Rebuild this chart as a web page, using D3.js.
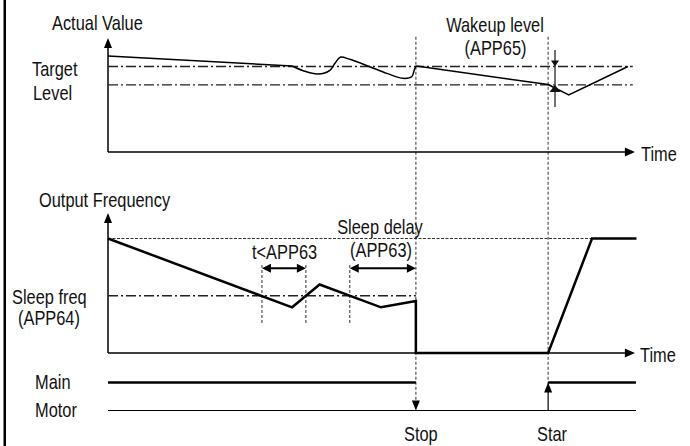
<!DOCTYPE html>
<html><head><meta charset="utf-8">
<script src="https://cdn.jsdelivr.net/npm/d3@7"></script>
<style>html,body{margin:0;padding:0;background:#fff;}svg{display:block;}</style>
</head><body><svg id="c" width="690" height="446"></svg>
<script>
// ---- data (time in 0..100, values in % of panel height) ----
const actualStraightT = [0, 34.8];
const actualStraightV = [84.2, 75.4];
const actualWaveT = [34.8, 36.9, 39.7, 42.0, 42.9, 43.9, 45.7, 49.5, 52.7, 55.8, 57.4, 58.0, 58.3];
const actualWaveV = [75.4, 71.3, 68.4, 71.9, 77.8, 83.1, 81.3, 74.8, 69.0, 64.6, 66.0, 73.4, 75.4];
const actualAfterT = [58.3, 83.2, 87.1, 98.3];
const actualAfterV = [75.4, 59.2, 50.0, 75.0];
const targetLevel = 75.0;
const wakeupLevel = 58.8;
const freqT = [0, 34.8, 40.0, 51.6, 58.2, 58.2, 83.2, 91.5, 99.9];
const freqV = [100, 39.9, 59.8, 39.9, 45.4, 0, 0, 100, 100];
const maxFreq = 100;
const sleepFreq = 50;
const sleepCrossT = [29.1, 37.4, 45.7];
const stopT = 58.2, startT = 83.2, wakeupT = 84.5;
const motorStates = ["Main", "Motor"];
const mainOnT = [[0, 58.2], [83.2, 99.8]];

const svg = d3.select("#c");
const tScale = d3.scaleLinear().domain([0, 100]).range([108, 637]);
const vScale = d3.scaleLinear().domain([0, 100]).range([152, 38]);
const fScale = d3.scaleLinear().domain([0, 100]).range([353, 238.5]);
const mScale = d3.scalePoint().domain(motorStates).range([382.5, 410.5]);

const FONT = "'Liberation Sans', Arial, sans-serif";
function label(txt, x, y, anchor) {
  svg.append("g").attr("transform", `translate(${x},${y}) scale(0.82,1)`)
    .append("text").attr("x", 0).attr("y", 0)
    .attr("font-family", FONT).attr("font-size", 20).attr("fill", "#111")
    .attr("text-anchor", anchor || "start").text(txt);
}
function tri(x, y, dir, len, hw, color) {
  let p;
  if (dir === "up") p = [[x, y], [x - hw, y + len], [x + hw, y + len]];
  else if (dir === "down") p = [[x, y], [x - hw, y - len], [x + hw, y - len]];
  else if (dir === "right") p = [[x, y], [x - len, y - hw], [x - len, y + hw]];
  else p = [[x, y], [x + len, y - hw], [x + len, y + hw]];
  svg.append("path").attr("d", "M" + p.map(d => d.join(",")).join("L") + "Z").attr("fill", color || "#000");
}
function seg(x1, y1, x2, y2, w, dash, color) {
  const l = svg.append("line").attr("x1", x1).attr("y1", y1).attr("x2", x2).attr("y2", y2)
    .attr("stroke", color || "#000").attr("stroke-width", w);
  if (dash) l.attr("stroke-dasharray", dash);
  return l;
}

// left frame line
seg(4.75, 0, 4.75, 446, 2.5);

// ---- big vertical dashed guides ----
seg(tScale(stopT), vScale(101), tScale(stopT), mScale("Motor") - 9, 1.2, "3,2", "#555");
seg(tScale(startT), vScale(101), tScale(startT), mScale("Main") + 9, 1.2, "3,2", "#555");

// ---- top panel ----
seg(tScale(0), vScale(0), tScale(0), vScale(100) + 8, 1.5);
tri(tScale(0), vScale(100), "up", 10, 4);
seg(tScale(0), vScale(0), tScale(99.6) - 8, vScale(0), 1.5);
tri(tScale(99.6), vScale(0), "right", 10, 4.5);
[targetLevel, wakeupLevel].forEach(v => seg(tScale(0), vScale(v), tScale(99.2), vScale(v), 1.3, "10,3,2,3", "#222"));

const lineA = d3.line().x(d => tScale(d[0])).y(d => vScale(d[1]));
svg.append("path").datum(actualStraightT.map((t, i) => [t, actualStraightV[i]]))
  .attr("d", lineA).attr("fill", "none").attr("stroke", "#000").attr("stroke-width", 1.5);
svg.append("path").datum(actualWaveT.map((t, i) => [t, actualWaveV[i]]))
  .attr("d", d3.line().x(d => tScale(d[0])).y(d => vScale(d[1])).curve(d3.curveCatmullRom.alpha(0.5)))
  .attr("fill", "none").attr("stroke", "#000").attr("stroke-width", 1.5);
svg.append("path").datum(actualAfterT.map((t, i) => [t, actualAfterV[i]]))
  .attr("d", lineA).attr("fill", "none").attr("stroke", "#000").attr("stroke-width", 1.5);

// wakeup level indicator
seg(tScale(wakeupT), vScale(89.5), tScale(wakeupT), vScale(39.5), 1.5, null, "#444");
tri(tScale(wakeupT), vScale(targetLevel), "down", 6, 4, "#111");
tri(tScale(wakeupT), vScale(wakeupLevel), "up", 7, 5.5, "#111");

label("Actual Value", 52, 30);
label("Target", 32, 76);
label("Level", 33, 100);
label("Wakeup level", 495, 31.5, "middle");
label("(APP65)", 495.5, 55, "middle");
label("Time", 641, 161);

// ---- bottom panel ----
seg(tScale(0), fScale(0), tScale(0), 213 + 8, 1.5);
tri(tScale(0), 213, "up", 10, 4);
seg(tScale(0), fScale(0), tScale(99.6) - 8, fScale(0), 1.5);
tri(tScale(99.6), fScale(0), "right", 10, 4.5);
seg(tScale(0), fScale(maxFreq), tScale(91.5), fScale(maxFreq), 1, "3,1.5", "#333");
seg(tScale(0), fScale(sleepFreq), tScale(stopT), fScale(sleepFreq), 1.3, "10,3,2,3", "#222");

sleepCrossT.forEach(t => seg(tScale(t), fScale(76.9), tScale(t), fScale(25.3), 1.2, "3,2", "#555"));

svg.append("path").datum(freqT.map((t, i) => [t, freqV[i]]))
  .attr("d", d3.line().x(d => tScale(d[0])).y(d => fScale(d[1])))
  .attr("fill", "none").attr("stroke", "#000").attr("stroke-width", 2.5).attr("stroke-linejoin", "miter");

// double arrows
function dblArrow(t1, t2, f) {
  const x1 = tScale(t1), x2 = tScale(t2), y = fScale(f);
  seg(x1 + 6, y, x2 - 6, y, 2);
  tri(x1, y, "left", 9, 4.5);
  tri(x2, y, "right", 9, 4.5);
}
dblArrow(sleepCrossT[0], sleepCrossT[1], 74);
dblArrow(sleepCrossT[2], stopT, 74);

label("Output Frequency", 39, 206.5);
label("t<APP63", 252, 258.5);
label("Sleep delay", 380, 234, "middle");
label("(APP63)", 381, 257, "middle");
label("Sleep freq", 12, 304);
label("(APP64)", 18, 325);
label("Time", 640, 361.5);

// ---- main motor ----
seg(tScale(0), mScale("Motor"), tScale(99.8), mScale("Motor"), 1.2);
mainOnT.forEach(r => seg(tScale(r[0]), mScale("Main"), tScale(r[1]), mScale("Main"), 2.5));
tri(tScale(stopT), mScale("Motor"), "down", 10, 4);
seg(tScale(startT), mScale("Motor"), tScale(startT), mScale("Main") + 8, 1.2);
tri(tScale(startT), mScale("Main"), "up", 10, 4);

label("Main", 35, 389);
label("Motor", 35, 416.5);
label("Stop", 404, 441);
label("Star", 537, 441);
</script></body></html>
